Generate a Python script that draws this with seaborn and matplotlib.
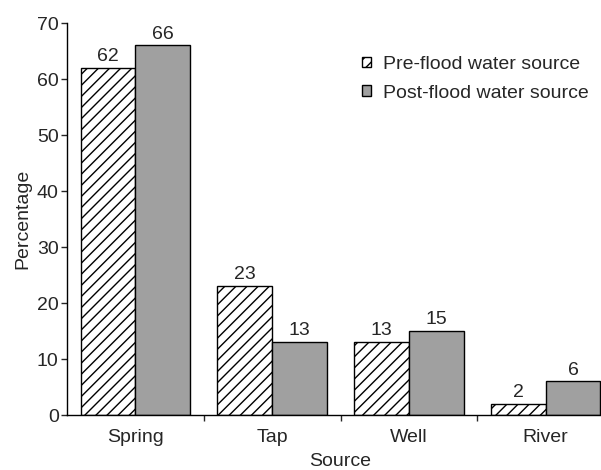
import matplotlib
matplotlib.use("Agg")
import matplotlib.pyplot as plt
import seaborn as sns
import pandas as pd
from matplotlib.ticker import FixedLocator
from matplotlib.patches import Patch

categories = ["Spring", "Tap", "Well", "River"]
pre_flood = [62, 23, 13, 2]
post_flood = [66, 13, 15, 6]
series_names = ["Pre-flood water source", "Post-flood water source"]
y_ticks = [0, 10, 20, 30, 40, 50, 60, 70]

sns.set_theme(style="white")
plt.rcParams["font.family"] = ["Liberation Sans", "DejaVu Sans"]
plt.rcParams["hatch.linewidth"] = 1.0

FS = 14

df = pd.DataFrame({
    "Source": categories * 2,
    "Percentage": pre_flood + post_flood,
    "Series": [series_names[0]] * 4 + [series_names[1]] * 4,
})

fig = plt.figure(figsize=(6.01, 4.70), dpi=100)
ax = fig.add_axes([67 / 601, 55 / 470, 547 / 601, 392 / 470])

sns.barplot(data=df, x="Source", y="Percentage", hue="Series",
            palette=["white", "#a0a0a0"], edgecolor="black", linewidth=1.0,
            width=0.8, gap=0, ax=ax, legend=False, saturation=1)

for i, cont in enumerate(ax.containers):
    for p in cont:
        if i == 0:
            p.set_hatch("///")
    ax.bar_label(cont, fontsize=FS, padding=2)

ax.set_xlim(-0.5, 3.5)
ax.set_ylim(0, 70)
ax.set_yticks(y_ticks)
ax.tick_params(axis="y", direction="out", length=4, width=1, labelsize=FS, pad=2, left=True)
ax.tick_params(axis="x", which="major", length=0, labelsize=FS, pad=10)
ax.xaxis.set_minor_locator(FixedLocator([0.5, 1.5, 2.5]))
ax.tick_params(axis="x", which="minor", direction="out", length=4, width=1, bottom=True)
for s in ["top", "right"]:
    ax.spines[s].set_visible(False)
for s in ["left", "bottom"]:
    ax.spines[s].set_color("black")
    ax.spines[s].set_linewidth(1.0)

ax.set_xlabel("Source", fontsize=FS, labelpad=5)
ax.set_ylabel("Percentage", fontsize=FS, labelpad=4)

handles = [Patch(facecolor="white", edgecolor="black", hatch="///", linewidth=1.0),
           Patch(facecolor="#a0a0a0", edgecolor="black", linewidth=1.0)]
fig.legend(handles, series_names, loc="upper left", bbox_to_anchor=(362 / 601, 1 - 56 / 470),
           frameon=False, fontsize=FS, handlelength=0.47, handleheight=0.47,
           handletextpad=0.6, labelspacing=0.6, borderaxespad=0, borderpad=0)

fig.savefig("out.png", dpi=100)
